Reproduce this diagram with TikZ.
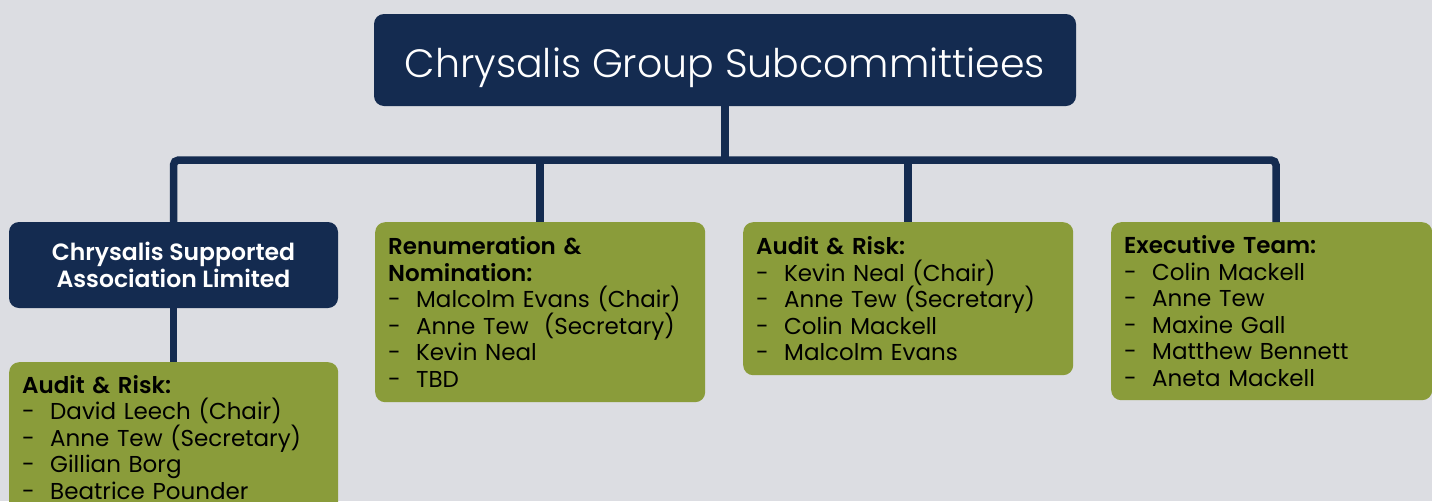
\documentclass[tikz,border=0pt]{standalone}
\usepackage{fontspec}
\setmainfont{Poppins}
\newfontfamily\titlefont{Poppins Light}
\newfontfamily\headfont{Poppins SemiBold}
\definecolor{navy}{RGB}{20,43,80}
\definecolor{olive}{RGB}{138,156,58}
\definecolor{paper}{RGB}{220,221,226}
\newcommand{\mitem}[1]{\makebox[28pt][l]{-}#1\\}
\newcommand{\hd}[1]{{\headfont #1}}
\begin{document}
\begin{tikzpicture}[x=1pt,y=-1pt,
  darkbox/.style={fill=navy, rounded corners=10pt, draw=none, text=white},
  greenbox/.style={fill=olive, rounded corners=10pt, draw=none, text=black,
    anchor=north west, align=left, inner xsep=13pt, inner ysep=0pt,
    font=\fontsize{23}{26.5}\selectfont},
  conn/.style={draw=navy, line width=7.5pt}]
  \useasboundingbox (0,0) rectangle (1432,501);
  \fill[paper] (0,0) rectangle (1432,501);

  % header box
  \node[darkbox, minimum width=702pt, minimum height=92pt,
        text height=40pt, text depth=6pt,
        font=\titlefont\fontsize{39.5}{48}\selectfont]
    (title) at (725,60) {Chrysalis Group Subcommittiees};

  % bus bar and drops
  \coordinate (bus) at (725,160);
  \coordinate (d1) at (172,160);
  \coordinate (d2) at (540,160);
  \coordinate (d3) at (908,160);
  \coordinate (d4) at (1276,160);

  % subsidiary company box
  \node[darkbox, minimum width=329pt, minimum height=86pt, align=center,
        font=\headfont\fontsize{23.5}{27}\selectfont]
    (csal) at (173.5,265) {Chrysalis Supported\\Association Limited};

  % committee boxes
  \node[greenbox, text width=303pt, minimum height=150pt] (ar1) at (9,362)
    {\hd{Audit \& Risk:}\\
     \mitem{David Leech (Chair)}
     \mitem{Anne Tew (Secretary)}
     \mitem{Gillian Borg}
     \makebox[28pt][l]{-}Beatrice Pounder};

  \node[greenbox, text width=304pt, minimum height=180pt] (rem) at (375,222)
    {\hd{Renumeration \&}\\
     \hd{Nomination:}\\
     \mitem{Malcolm Evans (Chair)}
     \mitem{Anne Tew\ \ (Secretary)}
     \mitem{Kevin Neal}
     \makebox[28pt][l]{-}TBD};

  \node[greenbox, text width=304pt, minimum height=153pt] (ar2) at (743,222)
    {\hd{Audit \& Risk:}\\
     \mitem{Kevin Neal (Chair)}
     \mitem{Anne Tew (Secretary)}
     \mitem{Colin Mackell}
     \makebox[28pt][l]{-}Malcolm Evans};

  \node[greenbox, text width=295pt, minimum height=178pt] (exec) at (1111,222)
    {\hd{Executive Team:}\\
     \mitem{Colin Mackell}
     \mitem{Anne Tew}
     \mitem{Maxine Gall}
     \mitem{Matthew Bennett}
     \makebox[28pt][l]{-}Aneta Mackell};

  % connectors
  \draw[conn] (title.south) -- (bus);
  \draw[conn, rounded corners=5pt] (csal.north) |- (d4) -- (d4 |- exec.north);
  \draw[conn] (d2) -- (d2 |- rem.north);
  \draw[conn] (d3) -- (d3 |- ar2.north);
  \draw[conn] (csal.south) -- (ar1.north -| csal.south);
\end{tikzpicture}
\end{document}
